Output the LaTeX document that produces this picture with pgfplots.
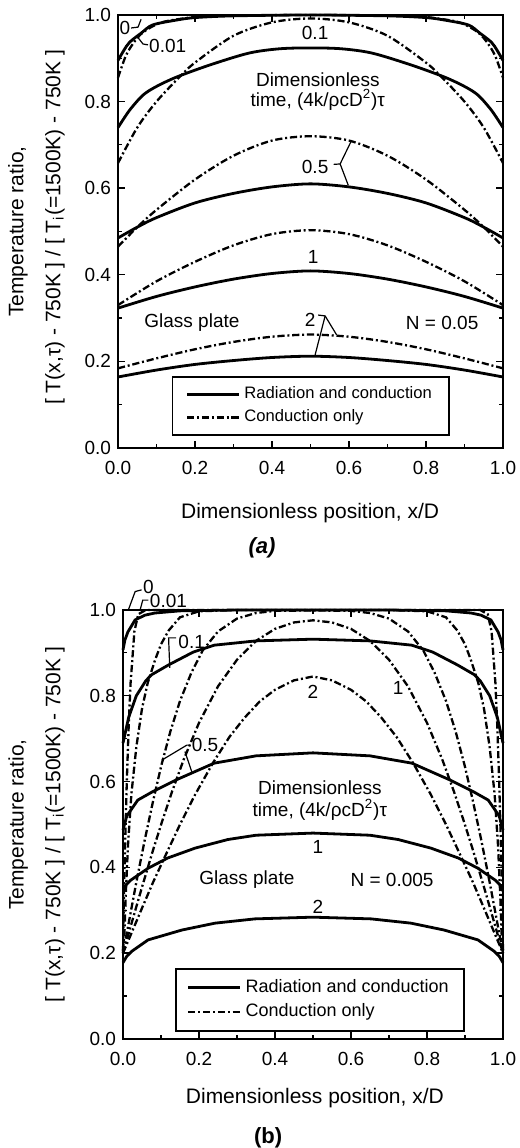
\documentclass[border=0pt]{standalone}
\usepackage{fontspec}
\setmainfont{Liberation Sans}
\usepackage{pgfplots}
\pgfplotsset{compat=1.18}
\tikzset{
  rc/.style={black, line width=1.4pt, line join=round},
  co/.style={black, line width=1.15pt, dash pattern=on 3.6pt off 1.4pt on 1pt off 1.4pt},
  lead/.style={black, line width=0.6pt},
  ann/.style={font=\fontsize{9.5}{11}\selectfont, inner sep=0pt},
}
\pgfplotsset{
  panel/.style={
    scale only axis, xmin=0, xmax=1, ymin=0, ymax=1,
    xtick={0,0.2,0.4,0.6,0.8,1}, ytick={0,0.2,0.4,0.6,0.8,1},
    minor tick num=1, tick align=inside, xtick pos=both, ytick pos=both,
    major tick length=3.5pt, minor tick length=2pt,
    major tick style={black, line width=0.7pt},
    minor tick style={black, line width=0.6pt},
    axis line style={line width=0.9pt},
    tick label style={font=\fontsize{9.5}{10}\selectfont},
    /pgf/number format/assume math mode=true,
    xticklabel style={yshift=-3pt, /pgf/number format/fixed, /pgf/number format/fixed zerofill, /pgf/number format/precision=1},
    yticklabel style={/pgf/number format/fixed, /pgf/number format/fixed zerofill, /pgf/number format/precision=1},
    clip=false,
    legend image code/.code={\draw[##1] (0pt,0pt) -- (26pt,0pt);},
    legend cell align=left,
  }
}
\begin{document}
\begin{tikzpicture}
\useasboundingbox (0,0) rectangle (260pt,574pt);
% ---------------- panel (a) ----------------
\begin{axis}[panel, at={(59pt,350pt)}, anchor=south west, width=192.5pt, height=216.5pt,
  legend style={at={(axis description cs:0.14,0.166)}, anchor=north west, draw=black, line width=0.8pt,
    font=\fontsize{8.3}{9.5}\selectfont, inner xsep=6.5pt, inner ysep=3pt, row sep=0pt}]
\addlegendimage{rc}\addlegendentry{Radiation and conduction}
\addlegendimage{co}\addlegendentry{Conduction only}
\addplot[rc, forget plot] coordinates {(0,1)(1,1)};
\addplot[rc, smooth, forget plot] coordinates {(0,0.895)(0.015,0.918)(0.03,0.937)(0.06,0.958)(0.09,0.977)(0.15,0.988)(0.2,0.994)(0.3,0.998)(0.5,1)(0.7,0.998)(0.8,0.994)(0.85,0.988)(0.91,0.977)(0.94,0.958)(0.97,0.937)(0.985,0.918)(1,0.895)};
\addplot[co, smooth, forget plot] coordinates {(0,0.855)(0.02,0.905)(0.04,0.935)(0.065,0.96)(0.11,0.982)(0.17,0.992)(0.25,0.998)(0.5,1)(0.75,0.998)(0.83,0.992)(0.89,0.982)(0.935,0.96)(0.96,0.935)(0.98,0.905)(1,0.855)};
\addplot[rc, smooth, forget plot] coordinates {(0,0.74)(0.03,0.78)(0.065,0.815)(0.1,0.835)(0.153,0.857)(0.24,0.885)(0.34,0.912)(0.42,0.922)(0.5,0.924)(0.58,0.922)(0.66,0.912)(0.76,0.885)(0.847,0.857)(0.9,0.835)(0.935,0.815)(0.97,0.78)(1,0.74)};
\addplot[co, smooth, forget plot] coordinates {(0,0.658)(0.05,0.74)(0.1,0.8)(0.16,0.857)(0.2,0.89)(0.3,0.952)(0.4,0.983)(0.5,0.992)(0.6,0.983)(0.7,0.952)(0.8,0.89)(0.84,0.857)(0.9,0.8)(0.95,0.74)(1,0.658)};
\addplot[rc, smooth, forget plot] coordinates {(0,0.485)(0.05,0.51)(0.1,0.532)(0.2,0.566)(0.3,0.588)(0.4,0.603)(0.5,0.61)(0.6,0.603)(0.7,0.588)(0.8,0.566)(0.9,0.532)(0.95,0.51)(1,0.485)};
\addplot[co, smooth, forget plot] coordinates {(0,0.465)(0.05,0.51)(0.1,0.55)(0.2,0.62)(0.3,0.675)(0.4,0.71)(0.5,0.72)(0.6,0.71)(0.7,0.675)(0.8,0.62)(0.9,0.55)(0.95,0.51)(1,0.465)};
\addplot[rc, smooth, forget plot] coordinates {(0,0.323)(0.1,0.35)(0.2,0.372)(0.3,0.39)(0.4,0.403)(0.5,0.409)(0.6,0.403)(0.7,0.39)(0.8,0.372)(0.9,0.35)(1,0.323)};
\addplot[co, smooth, forget plot] coordinates {(0,0.33)(0.1,0.385)(0.2,0.43)(0.3,0.468)(0.4,0.494)(0.5,0.503)(0.6,0.494)(0.7,0.468)(0.8,0.43)(0.9,0.385)(1,0.33)};
\addplot[rc, smooth, forget plot] coordinates {(0,0.164)(0.1,0.18)(0.2,0.193)(0.3,0.202)(0.4,0.209)(0.5,0.212)(0.6,0.209)(0.7,0.202)(0.8,0.193)(0.9,0.18)(1,0.164)};
\addplot[co, smooth, forget plot] coordinates {(0,0.184)(0.1,0.207)(0.2,0.228)(0.3,0.245)(0.4,0.257)(0.5,0.262)(0.6,0.257)(0.7,0.245)(0.8,0.228)(0.9,0.207)(1,0.184)};
% annotations
\node[ann] at (axis cs:0.018,0.969) {0};
\draw[lead] (axis cs:0.034,0.97) -- (axis cs:0.052,0.972) -- (axis cs:0.06,0.99);
\node[ann, anchor=west] at (axis cs:0.08,0.929) {0.01};
\draw[lead] (axis cs:0.078,0.931) -- (axis cs:0.065,0.933) -- (axis cs:0.05,0.95);
\node[ann] at (axis cs:0.512,0.958) {0.1};
\node[ann] at (axis cs:0.519,0.85) {Dimensionless};
\node[ann] at (axis cs:0.519,0.804) {time, (4k/ρcD\textsuperscript{2})τ};
\node[ann] at (axis cs:0.512,0.65) {0.5};
\draw[lead] (axis cs:0.56,0.655) -- (axis cs:0.577,0.656) -- (axis cs:0.607,0.711);
\draw[lead] (axis cs:0.577,0.656) -- (axis cs:0.598,0.607);
\node[ann] at (axis cs:0.507,0.442) {1};
\node[ann] at (axis cs:0.192,0.289) {Glass plate};
\node[ann] at (axis cs:0.499,0.297) {2};
\draw[lead] (axis cs:0.52,0.307) -- (axis cs:0.538,0.305) -- (axis cs:0.568,0.261);
\draw[lead] (axis cs:0.538,0.305) -- (axis cs:0.512,0.215);
\node[ann] at (axis cs:0.842,0.289) {N = 0.05};
% labels
\node[rotate=90, font=\fontsize{10.5}{12}\selectfont] at (axis description cs:-0.26,0.5) {Temperature ratio,};
\node[rotate=90, font=\fontsize{10.5}{12}\selectfont] at (axis description cs:-0.164,0.51) {[ T(x,τ) - 750K ] / [ T\textsubscript{i}(=1500K) - 750K ]};
\node[font=\fontsize{10.5}{12}\selectfont] at (axis description cs:0.499,-0.150) {Dimensionless position, x/D};
\node[font=\bfseries\itshape\fontsize{11}{12}\selectfont] at (axis description cs:0.374,-0.231) {(a)};
\end{axis}
% ---------------- panel (b) ----------------
\begin{axis}[panel, at={(61.5pt,54.5pt)}, anchor=south west, width=190pt, height=214.5pt,
  legend style={at={(axis description cs:0.137,0.1655)}, anchor=north west, draw=black, line width=0.8pt,
    font=\fontsize{9}{10.5}\selectfont, inner xsep=5.5pt, inner ysep=3.5pt, row sep=0pt}]
\addlegendimage{rc}\addlegendentry{Radiation and conduction}
\addlegendimage{co}\addlegendentry{Conduction only}
\addplot[rc, forget plot] coordinates {(0,1)(1,1)};
\addplot[rc, forget plot] coordinates {(0,0.907)(0.005,0.93)(0.013,0.949)(0.032,0.977)(0.058,0.988)(0.084,0.993)(0.15,0.998)(0.3,1)(0.7,1)(0.85,0.998)(0.916,0.993)(0.942,0.988)(0.968,0.977)(0.987,0.949)(0.995,0.93)(1,0.907)};
\addplot[co, forget plot] coordinates {(0,0.2)(0.003,0.36)(0.006,0.47)(0.01,0.6)(0.015,0.73)(0.02,0.83)(0.03,0.95)(0.04,0.99)(0.06,1)(0.94,1)(0.96,0.99)(0.97,0.95)(0.98,0.83)(0.985,0.73)(0.99,0.6)(0.994,0.47)(0.997,0.36)(1,0.2)};
\addplot[rc, forget plot] coordinates {(0,0.69)(0.005,0.71)(0.015,0.75)(0.035,0.8)(0.06,0.835)(0.075,0.849)(0.12,0.872)(0.185,0.902)(0.24,0.918)(0.35,0.928)(0.5,0.932)(0.65,0.928)(0.76,0.918)(0.815,0.902)(0.88,0.872)(0.925,0.849)(0.94,0.835)(0.965,0.8)(0.985,0.75)(0.995,0.71)(1,0.69)};
\addplot[co, forget plot] coordinates {(0,0.205)(0.004,0.25)(0.007,0.33)(0.013,0.45)(0.022,0.57)(0.035,0.68)(0.05,0.77)(0.065,0.83)(0.085,0.885)(0.1,0.92)(0.12,0.952)(0.15,0.983)(0.2,0.997)(0.3,1)(0.7,1)(0.8,0.997)(0.85,0.983)(0.88,0.952)(0.9,0.92)(0.915,0.885)(0.935,0.83)(0.95,0.77)(0.965,0.68)(0.978,0.57)(0.987,0.45)(0.993,0.33)(0.996,0.25)(1,0.205)};
\addplot[rc, forget plot] coordinates {(0,0.487)(0.01,0.52)(0.039,0.557)(0.079,0.577)(0.14,0.604)(0.24,0.643)(0.35,0.66)(0.5,0.667)(0.65,0.66)(0.76,0.643)(0.86,0.604)(0.921,0.577)(0.961,0.557)(0.99,0.52)(1,0.487)};
\addplot[co, forget plot] coordinates {(0,0.2)(0.01,0.247)(0.02,0.294)(0.035,0.365)(0.057,0.463)(0.08,0.558)(0.101,0.638)(0.125,0.718)(0.15,0.788)(0.18,0.854)(0.21,0.906)(0.25,0.95)(0.3,0.98)(0.35,0.993)(0.4,0.998)(0.5,0.999)(0.6,0.998)(0.65,0.993)(0.7,0.98)(0.75,0.95)(0.79,0.906)(0.82,0.854)(0.85,0.788)(0.875,0.718)(0.899,0.638)(0.92,0.558)(0.943,0.463)(0.965,0.365)(0.98,0.294)(0.99,0.247)(1,0.2)};
\addplot[rc, forget plot] coordinates {(0,0.352)(0.02,0.37)(0.066,0.398)(0.118,0.422)(0.19,0.445)(0.276,0.465)(0.35,0.475)(0.5,0.48)(0.65,0.475)(0.724,0.465)(0.81,0.445)(0.882,0.422)(0.934,0.398)(0.98,0.37)(1,0.352)};
\addplot[co, forget plot] coordinates {(0,0.2)(0.02,0.262)(0.05,0.354)(0.08,0.443)(0.105,0.513)(0.13,0.579)(0.16,0.652)(0.2,0.737)(0.25,0.822)(0.3,0.884)(0.35,0.928)(0.4,0.956)(0.45,0.971)(0.5,0.976)(0.55,0.971)(0.6,0.956)(0.65,0.928)(0.7,0.884)(0.75,0.822)(0.8,0.737)(0.84,0.652)(0.87,0.579)(0.895,0.513)(0.92,0.443)(0.95,0.354)(0.98,0.262)(1,0.2)};
\addplot[rc, forget plot] coordinates {(0,0.178)(0.01,0.193)(0.024,0.205)(0.066,0.231)(0.155,0.254)(0.242,0.27)(0.347,0.28)(0.5,0.284)(0.653,0.28)(0.758,0.27)(0.845,0.254)(0.934,0.231)(0.976,0.205)(0.99,0.193)(1,0.178)};
\addplot[co, forget plot] coordinates {(0,0.2)(0.02,0.242)(0.05,0.305)(0.08,0.367)(0.115,0.434)(0.15,0.5)(0.19,0.57)(0.237,0.644)(0.28,0.704)(0.32,0.749)(0.36,0.787)(0.4,0.814)(0.45,0.836)(0.5,0.845)(0.55,0.836)(0.6,0.814)(0.64,0.787)(0.68,0.749)(0.72,0.704)(0.763,0.644)(0.81,0.57)(0.85,0.5)(0.885,0.434)(0.92,0.367)(0.95,0.305)(0.98,0.242)(1,0.2)};
% annotations
\draw[lead] (axis cs:0.014,1.0) -- (axis cs:0.032,1.043) -- (axis cs:0.049,1.047);
\node[ann, anchor=west] at (axis cs:0.052,1.054) {0};
\draw[lead] (axis cs:0.045,1.0) -- (axis cs:0.052,1.023) -- (axis cs:0.067,1.023);
\node[ann, anchor=west] at (axis cs:0.07,1.021) {0.01};
\draw[lead] (axis cs:0.14,0.935) -- (axis cs:0.12,0.935) -- (axis cs:0.123,0.865);
\node[ann, anchor=west] at (axis cs:0.145,0.925) {0.1};
\draw[lead] (axis cs:0.102,0.65) -- (axis cs:0.168,0.685) -- (axis cs:0.178,0.685);
\draw[lead] (axis cs:0.163,0.67) -- (axis cs:0.181,0.623);
\node[ann, anchor=west] at (axis cs:0.18,0.685) {0.5};
\node[ann] at (axis cs:0.724,0.818) {1};
\node[ann] at (axis cs:0.5,0.809) {2};
\node[ann] at (axis cs:0.518,0.585) {Dimensionless};
\node[ann] at (axis cs:0.518,0.534) {time, (4k/ρcD\textsuperscript{2})τ};
\node[ann] at (axis cs:0.513,0.448) {1};
\node[ann] at (axis cs:0.326,0.371) {Glass plate};
\node[ann] at (axis cs:0.708,0.371) {N = 0.005};
\node[ann] at (axis cs:0.513,0.308) {2};
% labels
\node[rotate=90, font=\fontsize{10.5}{12}\selectfont] at (axis description cs:-0.276,0.5) {Temperature ratio,};
\node[rotate=90, font=\fontsize{10.5}{12}\selectfont] at (axis description cs:-0.179,0.5) {[ T(x,τ) - 750K ] / [ T\textsubscript{i}(=1500K) - 750K ]};
\node[font=\fontsize{10.5}{12}\selectfont] at (axis description cs:0.505,-0.1375) {Dimensionless position, x/D};
\node[font=\bfseries\fontsize{11}{12}\selectfont] at (axis description cs:0.382,-0.231) {(b)};
\end{axis}
\end{tikzpicture}
\end{document}
